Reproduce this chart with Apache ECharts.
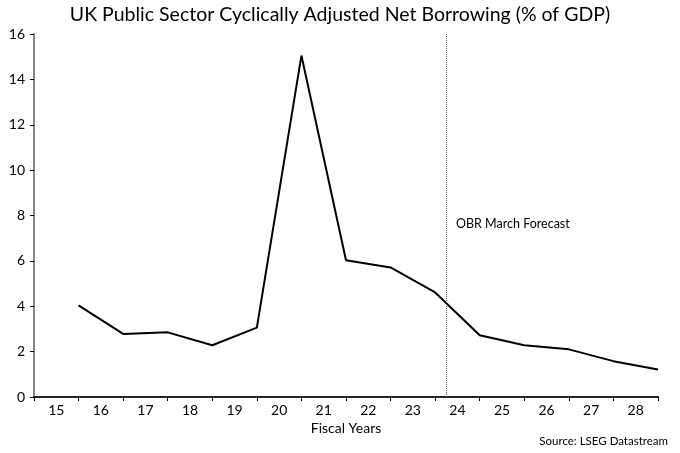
<!DOCTYPE html>
<html>
<head>
<meta charset="utf-8">
<script src="https://cdn.jsdelivr.net/npm/echarts@6/dist/echarts.min.js"></script>
<style>html,body{margin:0;padding:0;background:#fff}#c{width:680px;height:453px}</style>
</head>
<body>
<div id="c"></div>
<script>
var categories = ['15','16','17','18','19','20','21','22','23','24','25','26','27','28'];
var borrowing = [4.04, 2.78, 2.85, 2.28, 3.06, 15.05, 6.03, 5.71, 4.61, 2.72, 2.28, 2.1, 1.58, 1.21];
var forecastStart = 9.25;
var yTicks = {min: 0, max: 16, interval: 2};

var FONT = 'Lato';
var chart = echarts.init(document.getElementById('c'), null, {renderer: 'canvas'});
var lineData = borrowing.map(function (v, i) { return [i + 1, v]; });

chart.setOption({
  animation: false,
  backgroundColor: '#fff',
  title: {
    text: 'UK Public Sector Cyclically Adjusted Net Borrowing (% of GDP)',
    left: 'center', top: 0,
    textStyle: {fontFamily: FONT, fontSize: 19.5, fontWeight: 'normal', color: '#000'}
  },
  grid: {left: 34, right: 22, top: 34, bottom: 56, containLabel: false},
  xAxis: [{
    type: 'category', data: categories, boundaryGap: true,
    axisLine: {lineStyle: {color: '#222', width: 2}},
    axisTick: {show: true, length: 4, lineStyle: {color: '#000', width: 1}},
    axisLabel: {fontFamily: FONT, fontSize: 14, color: '#000', margin: 6},
    name: 'Fiscal Years', nameLocation: 'middle', nameGap: 24,
    nameTextStyle: {fontFamily: FONT, fontSize: 14, color: '#000'},
    splitLine: {show: false}
  }, {
    type: 'value', min: 0, max: 14, show: false
  }],
  yAxis: {
    type: 'value', min: yTicks.min, max: yTicks.max, interval: yTicks.interval,
    axisLine: {show: true, lineStyle: {color: '#888', width: 2}},
    axisTick: {show: true, length: 4, lineStyle: {color: '#000', width: 1}},
    axisLabel: {fontFamily: FONT, fontSize: 14, color: '#000', margin: 9},
    splitLine: {show: false}
  },
  series: [{
    type: 'line', xAxisIndex: 1, data: lineData,
    symbol: 'none', lineStyle: {color: '#000', width: 2},
    markLine: {
      silent: true, symbol: 'none',
      lineStyle: {type: 'dotted', color: '#555', width: 1},
      label: {show: false},
      data: [{xAxis: forecastStart}]
    }
  }],
  graphic: [{
    type: 'text', left: 456, top: 217,
    style: {text: 'OBR March Forecast', font: '12.5px ' + FONT, fill: '#000'}
  }, {
    type: 'text', right: 12, top: 435,
    style: {text: 'Source: LSEG Datastream', font: '11.5px ' + FONT, fill: '#000'}
  }]
});
</script>
</body>
</html>
